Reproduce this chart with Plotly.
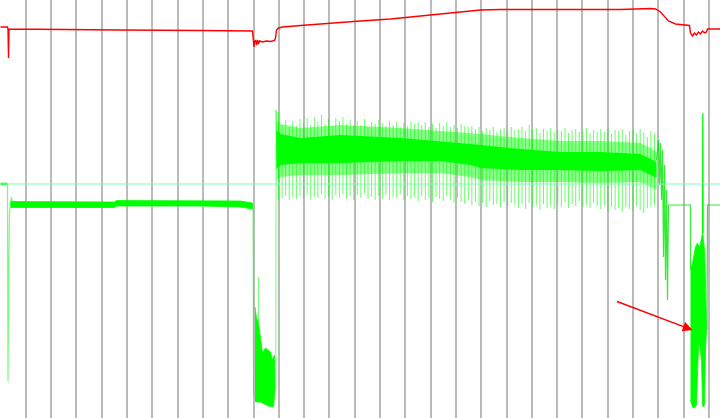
import numpy as np
import plotly.graph_objects as go

# ---------------- data (time in samples, level in arbitrary units) ----------------
GRID_STEP = 25.3
REF_LEVEL = 234

# red trace (supply)
red_t = [0, 7, 7.5, 8, 8.5, 50, 120, 200, 252, 253, 253.5, 254, 255, 256, 257, 258, 259, 262, 266, 270,
         274, 275, 276, 278, 282, 300, 330, 360, 390, 420, 450, 480, 500, 560, 620, 650, 655, 660, 664,
         668, 675, 689, 690, 692, 694, 696, 698, 700, 702, 704, 706, 707, 720]
red_v = [391, 391, 389, 360, 389, 388.5, 388, 387.5, 387, 376, 371, 376, 378, 373, 378, 374, 377, 376, 377, 376.5,
         377.5, 380, 388, 390, 391, 392.5, 395, 397, 399, 402, 405, 408, 408.5, 408.5, 408.5, 409.5, 409, 406, 401,
         397, 394, 392.5, 385, 382, 385, 383, 386, 384, 387, 385, 386, 389, 389]

# green trace pieces
pre_t = [0, 7]
pre_v = [234, 234]
trig_t = [7, 7.5, 8.3, 9, 10, 11, 12]
trig_v = [234, 37, 150, 205, 214, 221, 214]

band1_t = [10, 60, 114, 116, 200, 240, 252]
band1_top = [216.5, 216.5, 216, 217.5, 217.5, 217, 215]
band1_bot = [210.5, 210.5, 210.5, 212, 212, 211, 209]

fall_t = [252.5, 253]
fall_v = [213, 23]
burst1_t = [254.5, 256, 258, 260, 262, 265, 267, 270, 272, 274, 274.5, 273, 268, 264, 260, 256, 254.5]
burst1_v = [111, 100, 95, 80, 65, 70, 68, 66, 58, 63, 28, 11, 12, 14, 16, 16, 17]
burst1_spike_t = [258, 258]
burst1_spike_v = [95, 141]
rise_t = [275.3, 275.6, 276.5]
rise_v = [28, 308, 250]

core_t = [276, 280, 300, 340, 400, 440, 470, 480, 520, 560, 600, 640, 650, 656]
core_top = [288, 284, 280, 283, 280, 277, 274, 273, 269, 266, 266, 264, 259, 256]
core_bot = [249, 253, 255, 255, 257, 257, 253, 250, 248, 248, 247, 248, 243, 240]
halo_top = [298, 294, 290, 293, 290, 287, 284, 284, 280, 277, 277, 275, 270, 266]
halo_bot = [236, 241, 243, 243, 245, 245, 241, 238, 236, 236, 235, 236, 231, 228]

spike_top = [306,
             293, 298, 291, 297, 292, 299,
             295, 300, 293, 301, 296, 303, 294, 299, 292, 300, 297,
             301, 294, 298, 292, 297, 293, 299, 291, 296, 294, 298,
             295, 292, 297, 293, 296, 291, 295, 292, 297, 294, 296,
             293, 296, 291, 294, 290, 295, 292, 296, 291, 293, 290, 294, 292, 291,
             292, 289, 291, 287, 290, 288, 291, 286, 289, 290, 287, 291, 288, 289,
             291, 287, 293, 288, 290, 285, 289, 287, 290, 286, 288,
             287, 290, 285, 288, 289, 286, 287, 290, 285, 288, 286,
             289, 286, 290, 284, 288, 287, 289, 283, 287, 288, 285, 289, 286, 281, 287, 284]
spike_bot = [218,
             220, 222, 218, 221, 219, 222,
             219, 223, 218, 221, 220, 224, 219, 222, 218, 223, 220,
             224, 219, 222, 218, 223, 220, 225, 219, 221, 218, 222,
             219, 223, 218, 221, 220, 224, 218, 222, 219, 221, 217,
             222, 218, 220, 216, 221, 219, 217, 222, 218, 215, 220, 216, 214, 218,
             213, 216, 212, 215, 211, 217, 213, 214, 211, 216, 212, 215, 213, 210,
             214, 209, 215, 211, 213, 208, 214, 210, 212, 209, 215,
             211, 216, 210, 214, 212, 217, 211, 213, 210, 215, 212,
             209, 212, 207, 211, 208, 210, 206, 211, 209, 207, 212, 208, 205, 210, 211, 213]
SPIKE_START, SPIKE_END = 278, 654

drop_t = [656, 658, 659, 660, 661, 662, 663, 664, 665, 666, 667, 668, 690, 690]
drop_v = [258, 278, 233, 275, 218, 268, 161, 253, 138, 228, 118, 213, 213, 148]

burst2_t = [690, 692, 695, 697, 699, 701, 702, 703, 704, 705, 706, 706, 705, 704, 703, 702, 701, 699, 698,
            697, 696, 694, 692, 690]
burst2_v = [148, 155, 171, 175, 170, 178, 185, 178, 168, 138, 108, 88, 68, 13, 11, 13, 58, 73, 73,
            38, 13, 10, 11, 18]
spike2_t = [702, 702.3, 702.6]
spike2_v = [185, 305, 185]
tail_t = [706.5, 707, 720]
tail_v = [88, 213, 213]

arrow_tip = (692, 88)
arrow_tail = (615, 117)

# ---------------- figure ----------------
GREEN = "#00ff00"
LIGHT_GREEN = "rgba(0,255,0,0.55)"
RED = "#ff0000"

fig = go.Figure()


def line(t, v, color, width):
    fig.add_trace(go.Scatter(x=t, y=v, mode="lines", line=dict(color=color, width=width),
                             hoverinfo="skip", showlegend=False))


def poly(t, v, color, lw=0.8):
    fig.add_trace(go.Scatter(x=t, y=v, mode="lines", fill="toself", fillcolor=color,
                             line=dict(color=color, width=lw), hoverinfo="skip", showlegend=False))


# first section band
poly(band1_t + band1_t[::-1], band1_top + band1_bot[::-1], GREEN)
line(pre_t, pre_v, GREEN, 2.5)
line(trig_t, trig_v, LIGHT_GREEN, 1.2)

# collapse burst
line(fall_t, fall_v, LIGHT_GREEN, 1)
poly(burst1_t, burst1_v, GREEN)
line(burst1_spike_t, burst1_spike_v, LIGHT_GREEN, 1)
line(rise_t, rise_v, LIGHT_GREEN, 1)

# oscillating section: thin spikes, halo, dense core
st = np.linspace(SPIKE_START, SPIKE_END, len(spike_top))
sx, sy = [], []
for t, a, b in zip(st, spike_top, spike_bot):
    sx += [t, t, None]
    sy += [a, b, None]
line(sx, sy, "rgba(0,255,0,0.6)", 1)
poly(core_t + core_t[::-1], halo_top + halo_bot[::-1], "rgba(0,255,0,0.45)", 0)
poly(core_t + core_t[::-1], core_top + core_bot[::-1], GREEN, 0)

# end section
line(drop_t, drop_v, "rgba(0,230,0,0.8)", 1.2)
poly(burst2_t, burst2_v, GREEN)
line(spike2_t, spike2_v, GREEN, 1.3)
line(tail_t, tail_v, "rgba(0,230,0,0.8)", 1.2)

# reference level
fig.add_trace(go.Scatter(x=[-1, 721], y=[REF_LEVEL, REF_LEVEL], mode="lines",
                         line=dict(color="rgb(128,255,176)", width=1.2), hoverinfo="skip", showlegend=False))

# red trace
line(red_t, red_v, RED, 1.4)

fig.add_annotation(x=arrow_tip[0], y=arrow_tip[1], ax=arrow_tail[0], ay=arrow_tail[1],
                   xref="x", yref="y", axref="x", ayref="y", text="", showarrow=True,
                   arrowhead=2, arrowsize=1.3, arrowwidth=1.5, arrowcolor=RED)

fig.update_layout(
    width=720, height=418, autosize=False,
    margin=dict(l=0, r=0, t=0, b=0, pad=0),
    paper_bgcolor="white", plot_bgcolor="white",
    xaxis=dict(range=[-0.5, 719.5], showgrid=True, gridcolor="#bababa", gridwidth=1.5,
               tick0=0, dtick=GRID_STEP, showticklabels=False, ticks="", zeroline=False, showline=False),
    yaxis=dict(range=[0, 418], showgrid=False, showticklabels=False, ticks="", zeroline=False, showline=False),
)

fig.write_html("out.html", config={"displayModeBar": False},
               post_script="document.body.style.margin='0';document.body.style.overflow='hidden';")
